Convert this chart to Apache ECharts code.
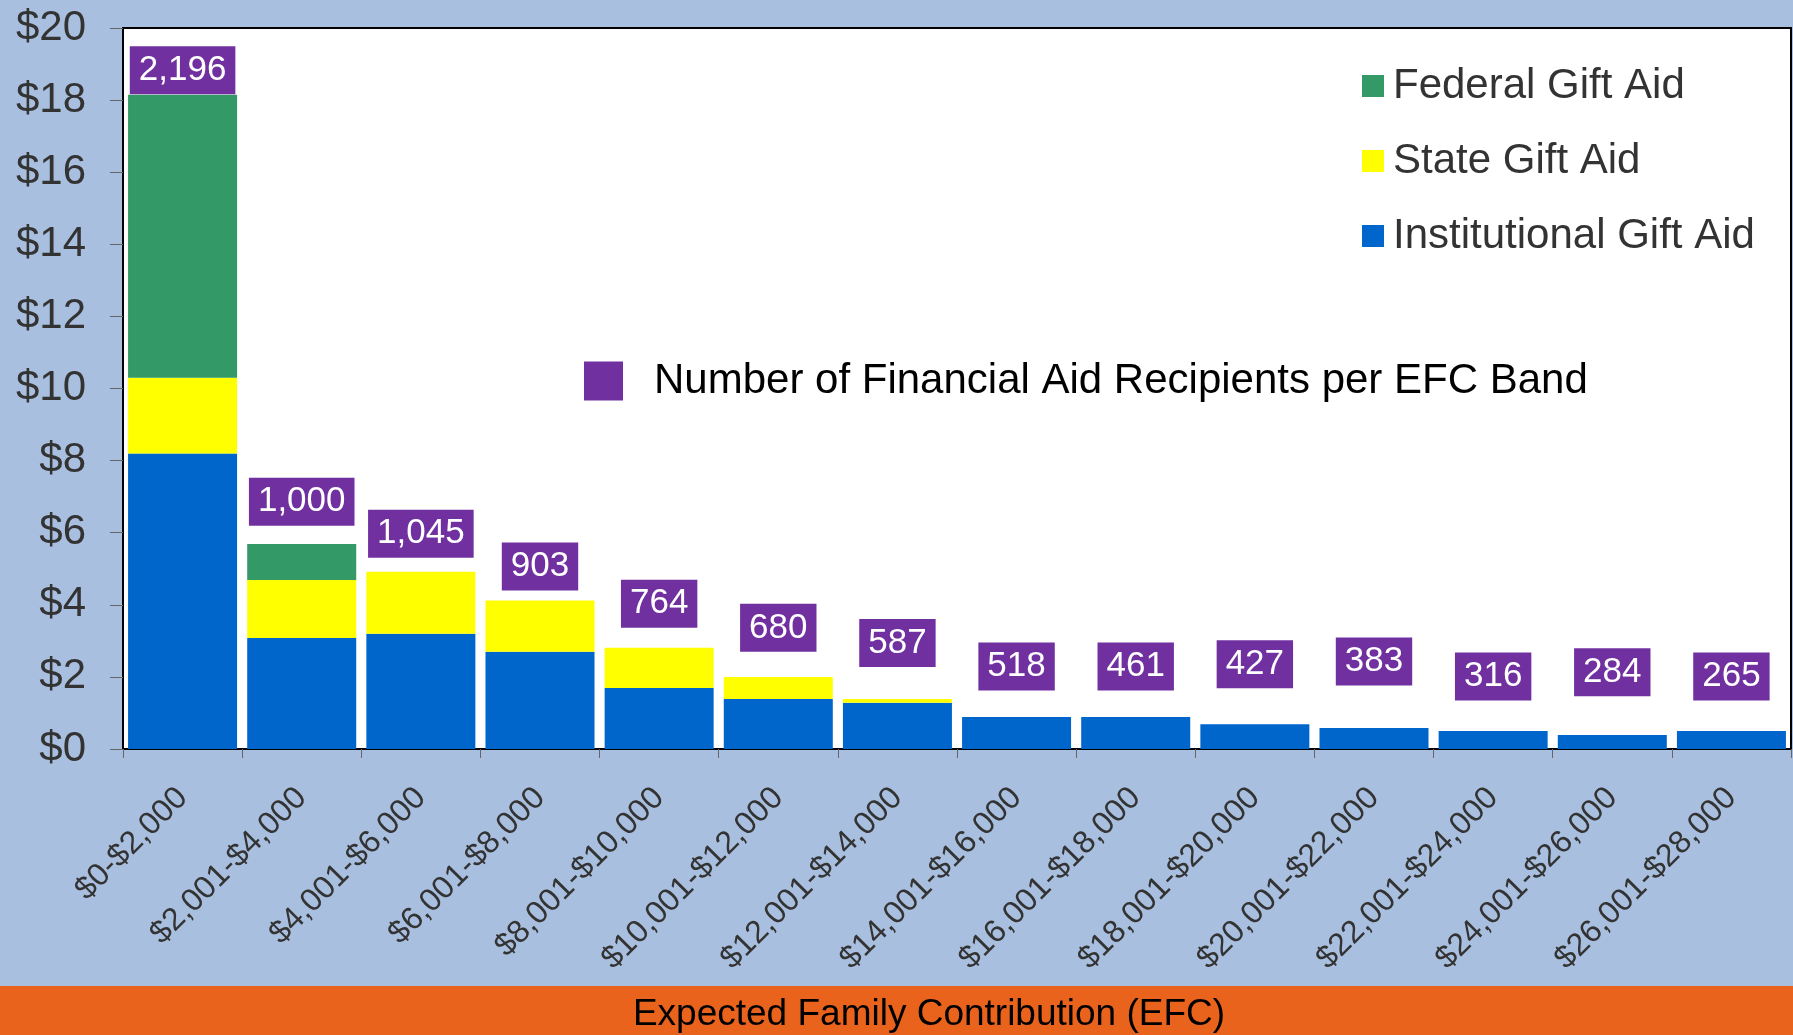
<!DOCTYPE html>
<html lang="en">
<head>
    <meta charset="UTF-8">
    <title>Gift Aid by EFC Band</title>
    <script src="https://cdn.jsdelivr.net/npm/echarts@6.0.0/dist/echarts.min.js"></script>
    <style>
        html, body { margin: 0; padding: 0; background: #a9bfdf; }
        #chart { width: 1793px; height: 1035px; }
    </style>
</head>
<body>
<div id="chart"></div>
<script>
    // EFC bands
    var categories = ['$0-$2,000', '$2,001-$4,000', '$4,001-$6,000', '$6,001-$8,000', '$8,001-$10,000',
        '$10,001-$12,000', '$12,001-$14,000', '$14,001-$16,000', '$16,001-$18,000', '$18,001-$20,000',
        '$20,001-$22,000', '$22,001-$24,000', '$24,001-$26,000', '$26,001-$28,000'];

    // gift aid, $ millions (stacked)
    var institutional = [8.2, 3.08, 3.2, 2.7, 1.69, 1.39, 1.28, 0.89, 0.89, 0.69, 0.58, 0.5, 0.39, 0.5];
    var stateAid = [2.1, 1.61, 1.72, 1.42, 1.12, 0.61, 0.11, 0, 0, 0, 0, 0, 0, 0];
    var federal = [7.85, 1.0, 0, 0, 0, 0, 0, 0, 0, 0, 0, 0, 0, 0];

    // recipients per band, and the level (on the $ axis) where each count label sits
    var recipients = [2196, 1000, 1045, 903, 764, 680, 587, 518, 461, 427, 383, 316, 284, 265];
    var labelLevel = [18.83, 6.86, 5.97, 5.06, 4.03, 3.36, 2.94, 2.29, 2.29, 2.35, 2.43, 2.01, 2.13, 2.01];

    var yTicks = [0, 2, 4, 6, 8, 10, 12, 14, 16, 18, 20];

    var chart = echarts.init(document.getElementById('chart'));

    var font = 'Liberation Sans, Arial, sans-serif';

    chart.setOption({
        backgroundColor: '#a9bfdf',
        textStyle: {fontFamily: font},
        animation: false,
        grid: {
            left: 123, right: 2, top: 28, bottom: 286,
            show: true, backgroundColor: '#ffffff', borderColor: '#000', borderWidth: 2
        },
        legend: [{
            data: ['Federal Gift Aid', 'State Gift Aid', 'Institutional Gift Aid'],
            orient: 'vertical',
            left: 1357, top: 60,
            icon: 'rect',
            itemWidth: 22, itemHeight: 22, itemGap: 33,
            textStyle: {fontSize: 42, lineHeight: 42, color: '#333', fontFamily: font, padding: [0, 0, 0, 4]}
        }, {
            data: ['Number of Financial Aid Recipients per EFC Band'],
            left: 579, top: 344,
            icon: 'rect',
            itemWidth: 39, itemHeight: 39,
            itemStyle: {opacity: 1},
            textStyle: {fontSize: 42, lineHeight: 42, color: '#000', fontFamily: font, padding: [22, 0, 0, 26]}
        }],
        xAxis: {
            type: 'category',
            data: categories,
            axisLine: {lineStyle: {color: '#000', width: 2}},
            axisTick: {show: true, length: 9, lineStyle: {color: '#666'}},
            axisLabel: {rotate: 45, fontSize: 32, color: '#333', margin: 44, interval: 0}
        },
        yAxis: {
            type: 'value',
            min: yTicks[0], max: yTicks[yTicks.length - 1], interval: 2,
            splitLine: {show: false},
            axisLine: {show: true, lineStyle: {color: '#000', width: 2}},
            axisTick: {show: true, length: 13, lineStyle: {color: '#666'}},
            axisLabel: {
                fontSize: 42, color: '#333', margin: 37,
                formatter: function (v) { return '$' + v; }
            }
        },
        series: [{
            name: 'Institutional Gift Aid',
            type: 'bar', stack: 'aid',
            barCategoryGap: '8.5%',
            itemStyle: {color: '#0066cc'},
            data: institutional
        }, {
            name: 'State Gift Aid',
            type: 'bar', stack: 'aid',
            itemStyle: {color: '#ffff00'},
            data: stateAid
        }, {
            name: 'Federal Gift Aid',
            type: 'bar', stack: 'aid',
            itemStyle: {color: '#339966'},
            data: federal
        }, {
            name: 'Number of Financial Aid Recipients per EFC Band',
            type: 'scatter',
            symbolSize: 0,
            itemStyle: {color: '#7030a0', opacity: 1},
            z: 5,
            label: {
                show: true,
                position: 'inside',
                fontSize: 35, lineHeight: 36,
                color: '#fff',
                backgroundColor: '#7030a0',
                opacity: 1,
                padding: [6, 9, 6, 9],
                formatter: function (p) { return recipients[p.dataIndex].toLocaleString('en-US'); }
            },
            data: labelLevel.map(function (v, i) { return [categories[i], v]; })
        }],
        graphic: [{
            type: 'rect',
            left: 0, top: 986,
            shape: {width: 1793, height: 49},
            style: {fill: '#e9631c'},
            z: -1
        }, {
            type: 'text',
            x: 929, y: 1015,
            style: {
                text: 'Expected Family Contribution (EFC)',
                fontSize: 37, fill: '#000', fontFamily: font,
                align: 'center', verticalAlign: 'middle'
            }
        }]
    });
</script>
</body>
</html>
